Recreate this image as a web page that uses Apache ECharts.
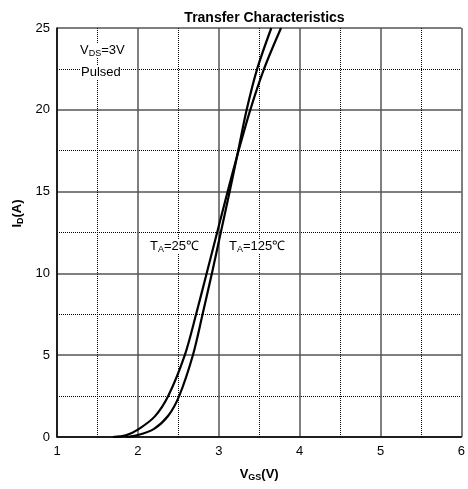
<!DOCTYPE html>
<html>
<head>
<meta charset="utf-8">
<script src="https://cdn.jsdelivr.net/npm/echarts@6/dist/echarts.min.js"></script>
<style>
  html, body { margin: 0; padding: 0; background: #fff; }
  #chart { width: 468px; height: 489px; }
</style>
</head>
<body>
<div id="chart"></div>
<script>
// Drain current vs gate-source voltage, V_DS = 3 V, pulsed
const vgs25 = [1.85, 2.0,  2.2, 2.375, 2.51, 2.68, 2.80, 2.915, 3.025, 3.135, 3.24, 3.345, 3.475, 3.65];
const id25  = [0,    0.12, 0.5, 1.3,   2.5,  5.0,  7.5,  10.0,  12.5,  15.0,  17.5, 20.0,  22.5,  25.0];

const vgs125 = [1.69, 1.85, 2.0,  2.21, 2.375, 2.58, 2.72, 2.85, 2.98, 3.11, 3.245, 3.39, 3.56, 3.77];
const id125  = [0,    0.1,  0.45, 1.26, 2.5,   5.0,  7.5,  10.0, 12.5, 15.0, 17.5,  20.0, 22.5, 25.0];

const xTicks = [1, 2, 3, 4, 5, 6];
const yTicks = [0, 5, 10, 15, 20, 25];

const pairs = (xs, ys) => xs.map((x, i) => [x, ys[i]]);

const FONT = 'Liberation Sans, Arial, sans-serif';
const chart = echarts.init(document.getElementById('chart'), null, { renderer: 'canvas' });

const nameRich = {
  b: { fontFamily: FONT, fontSize: 13, fontWeight: 'bold', color: '#000' },
  s: { fontFamily: FONT, fontSize: 9, fontWeight: 'bold', color: '#000', padding: [6, 0, 0, 0] }
};
const noteRich = {
  a: { fontFamily: FONT, fontSize: 13, fill: '#000', backgroundColor: '#fff' },
  s: { fontFamily: FONT, fontSize: 9, fill: '#000', backgroundColor: '#fff', padding: [6, 0, 0, 0] }
};

chart.setOption({
  animation: false,
  backgroundColor: '#fff',
  title: {
    text: 'Transfer Characteristics',
    left: 259.5,
    textAlign: 'center',
    top: 6,
    textStyle: { fontFamily: FONT, fontSize: 14, fontWeight: 'bold', color: '#000' }
  },
  grid: { left: 57, top: 28, right: 6, bottom: 52, containLabel: false },
  xAxis: {
    type: 'value',
    min: xTicks[0],
    max: xTicks[xTicks.length - 1],
    interval: 1,
    name: '{b|V}{s|GS}{b|(V)}',
    nameLocation: 'middle',
    nameGap: 30,
    nameTextStyle: { rich: nameRich },
    axisLine: { show: true, lineStyle: { color: '#000', width: 1.5 } },
    axisTick: { show: false },
    axisLabel: { fontFamily: FONT, fontSize: 13, color: '#000', margin: 8 },
    splitLine: { show: true, lineStyle: { color: '#555', width: 1.5 } },
    minorTick: { show: false, splitNumber: 2 },
    minorSplitLine: { show: true, lineStyle: { color: '#000', width: 1, type: [1, 1] } }
  },
  yAxis: {
    type: 'value',
    min: yTicks[0],
    max: yTicks[yTicks.length - 1],
    interval: 5,
    name: '{b|I}{s|D}{b|(A)}',
    nameLocation: 'middle',
    nameGap: 30,
    nameTextStyle: { rich: nameRich, padding: [0, 0, 0, 38] },
    axisLine: { show: true, lineStyle: { color: '#000', width: 1.5 } },
    axisTick: { show: false },
    axisLabel: { fontFamily: FONT, fontSize: 13, color: '#000', margin: 7 },
    splitLine: { show: true, lineStyle: { color: '#555', width: 1.5 } },
    minorTick: { show: false, splitNumber: 2 },
    minorSplitLine: { show: true, lineStyle: { color: '#000', width: 1, type: [1, 1] } }
  },
  series: [
    {
      name: 'TA=25℃',
      type: 'line',
      data: pairs(vgs25, id25),
      smooth: 0.3,
      showSymbol: false,
      lineStyle: { color: '#000', width: 2.2 },
      z: 5
    },
    {
      name: 'TA=125℃',
      type: 'line',
      data: pairs(vgs125, id125),
      smooth: 0.3,
      showSymbol: false,
      lineStyle: { color: '#000', width: 2.2 },
      z: 5
    }
  ],
  graphic: [
    {
      type: 'text', left: 80, top: 43,
      style: { text: '{a|V}{s|DS}{a|=3V}', rich: noteRich },
      z: 10
    },
    {
      type: 'text', left: 81, top: 66,
      style: { text: 'Pulsed', fontFamily: FONT, fontSize: 13, fill: '#000', backgroundColor: '#fff' },
      z: 10
    },
    {
      type: 'text', left: 150, top: 239,
      style: { text: '{a|T}{s|A}{a|=25℃}', rich: noteRich },
      z: 10
    },
    {
      type: 'text', left: 229, top: 239,
      style: { text: '{a|T}{s|A}{a|=125℃}', rich: noteRich },
      z: 10
    }
  ]
});
</script>
</body>
</html>
